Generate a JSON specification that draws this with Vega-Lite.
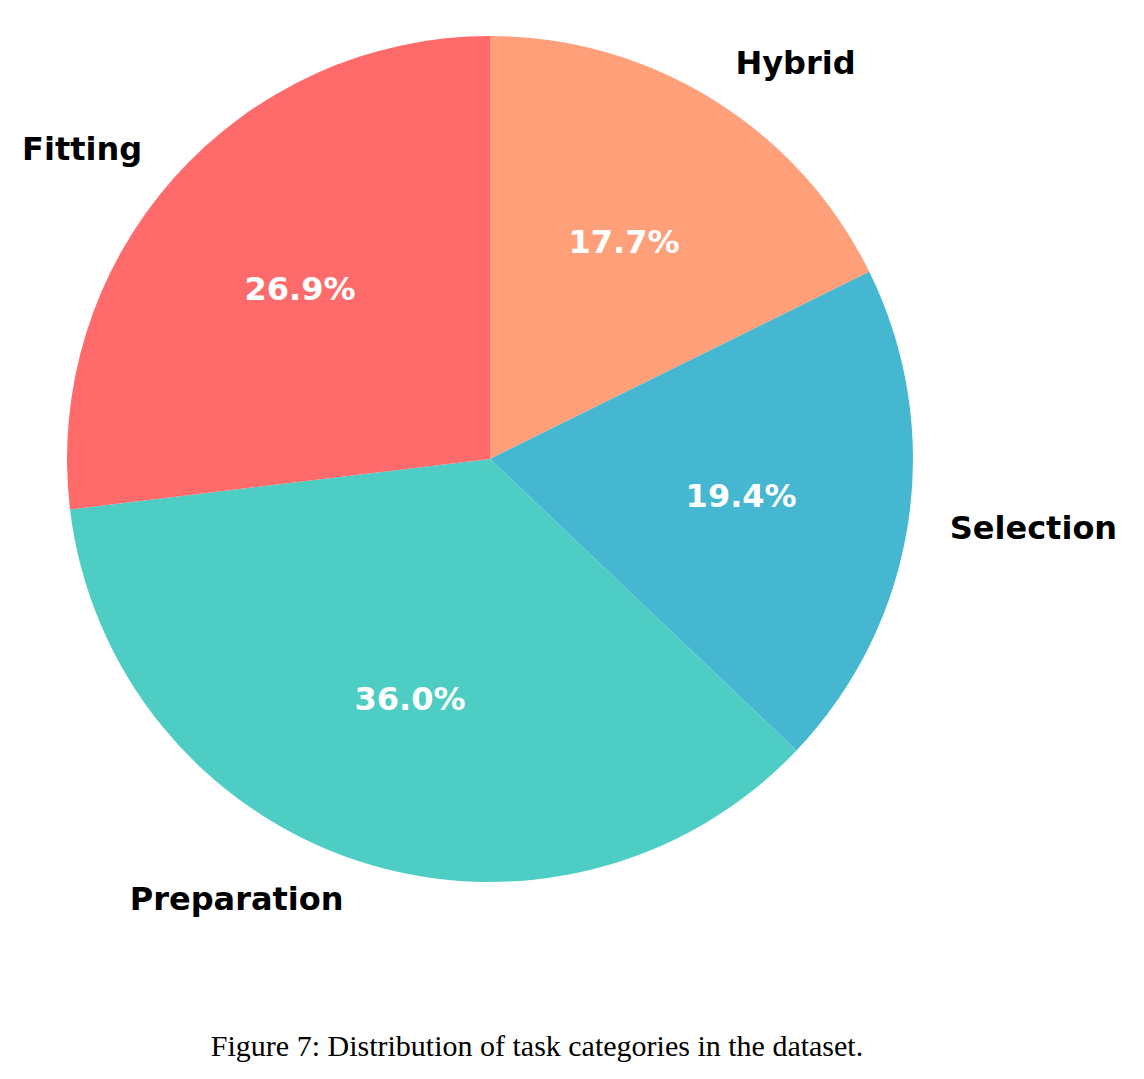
{
  "$schema": "https://vega.github.io/schema/vega-lite/v6.json",
  "autosize": {"type": "none"},
  "width": 980,
  "height": 918,
  "padding": {"left": 0, "top": 0, "right": 164, "bottom": 161},
  "background": "white",
  "view": {"stroke": null},
  "title": {
    "text": "Figure 7: Distribution of task categories in the dataset.",
    "orient": "bottom",
    "anchor": "middle",
    "dx": 47,
    "offset": 138,
    "font": "Liberation Serif",
    "fontSize": 30,
    "fontWeight": "normal",
    "color": "black",
    "baseline": "alphabetic"
  },
  "data": {
    "values": [
      {"idx": 1, "name": "Hybrid", "value": 17.7, "label": "17.7%"},
      {"idx": 2, "name": "Selection", "value": 19.4, "label": "19.4%"},
      {"idx": 3, "name": "Preparation", "value": 36.0, "label": "36.0%"},
      {"idx": 4, "name": "Fitting", "value": 26.9, "label": "26.9%"}
    ]
  },
  "encoding": {
    "theta": {"field": "value", "type": "quantitative", "stack": true},
    "order": {"field": "idx", "type": "quantitative"}
  },
  "layer": [
    {
      "mark": {"type": "arc", "outerRadius": 423, "strokeWidth": 0},
      "encoding": {
        "color": {
          "field": "name",
          "type": "nominal",
          "scale": {
            "domain": ["Hybrid", "Selection", "Preparation", "Fitting"],
            "range": ["#FFA07A", "#45B7D1", "#4ECDC4", "#FF6B6B"]
          },
          "legend": null
        }
      }
    },
    {
      "mark": {"type": "text", "radius": 254, "font": "DejaVu Sans", "fontWeight": "bold", "fontSize": 32, "color": "white", "align": "center", "baseline": "middle"},
      "encoding": {"text": {"field": "label", "type": "nominal"}}
    },
    {
      "mark": {"type": "text", "radius": 465, "font": "DejaVu Sans", "fontWeight": "bold", "fontSize": 32, "color": "black", "baseline": "middle",
        "align": {"expr": "(datum.name == 'Hybrid' || datum.name == 'Selection') ? 'left' : 'right'"}},
      "encoding": {"text": {"field": "name", "type": "nominal"}}
    }
  ]
}
